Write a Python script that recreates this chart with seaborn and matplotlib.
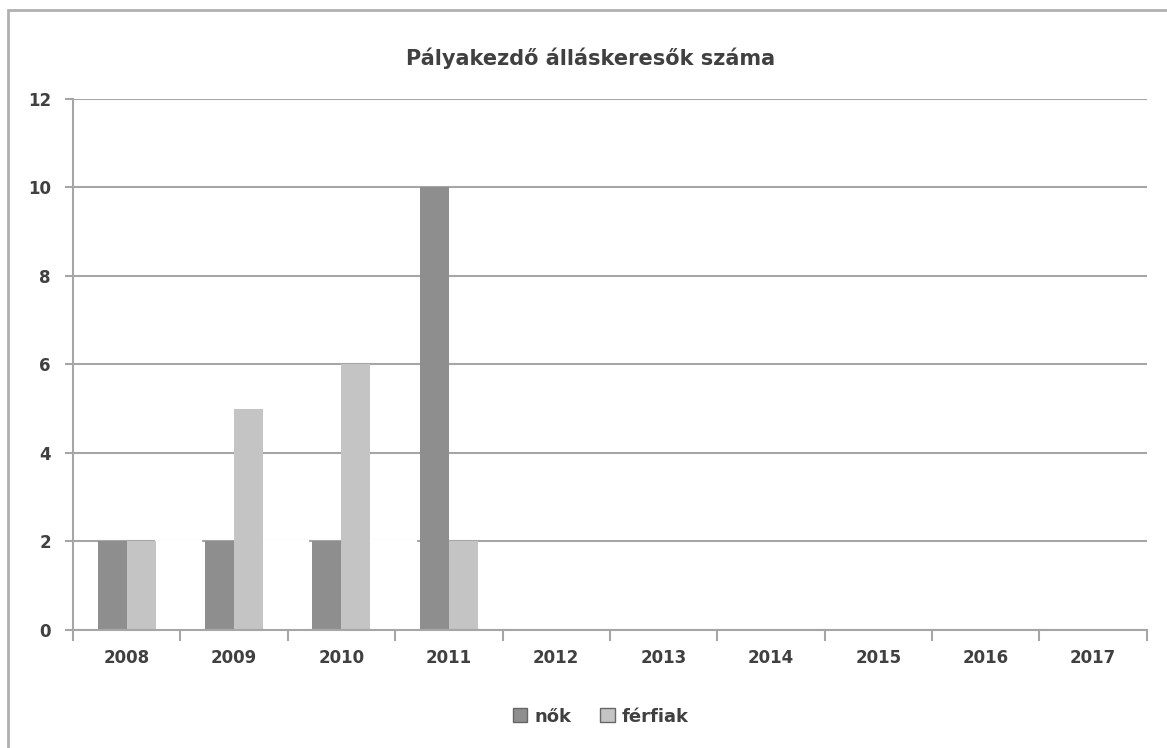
import pandas as pd
import matplotlib
matplotlib.use("Agg")
import matplotlib.pyplot as plt
import seaborn as sns
from matplotlib.patches import Rectangle, Patch

years = ["2008", "2009", "2010", "2011", "2012", "2013", "2014", "2015", "2016", "2017"]
nok = [2, 2, 2, 10, 0, 0, 0, 0, 0, 0]
ferfiak = [2, 5, 6, 2, 0, 0, 0, 0, 0, 0]
# third series in the original workbook, drawn in white (only hides the gridline)
rejtett = [2, 2, 2, 0, 0, 0, 0, 0, 0, 0]

series_names = ["nők", "férfiak", "rejtett"]
colors = ["#8e8e8e", "#c4c4c4", "#ffffff"]

data = pd.DataFrame({
    "év": years * 3,
    "érték": nok + ferfiak + rejtett,
    "sorozat": ["nők"] * 10 + ["férfiak"] * 10 + ["rejtett"] * 10,
})

sns.set_style("white")
plt.rcParams["font.family"] = ["DejaVu Sans"]
text_color = "#404040"
line_color = "#a6a6a6"

fig = plt.figure(figsize=(11.67, 7.48), dpi=100)
ax = fig.add_axes([0.0626, 0.158, 0.92, 0.71])

sns.barplot(data=data, x="év", y="érték", hue="sorozat", hue_order=series_names,
            palette=colors, width=0.81, saturation=1, legend=False, ax=ax, zorder=3)

# shift the cluster so the two visible bars sit around the tick, widen the mask bars
n = len(years)
for i, bar in enumerate(ax.patches):
    bar.set_x(bar.get_x() + 0.135)
    bar.set_linewidth(0)
    if i >= 2 * n:
        bar.set_width(0.42)
        bar.set_edgecolor("white")
        bar.set_linewidth(1.5)
        bar.set_zorder(2.5)

ax.set_xlim(-0.5, n - 0.5)
ax.set_ylim(0, 12)
ax.set_yticks(range(0, 13, 2))
ax.yaxis.grid(True, color=line_color, linewidth=1.5, zorder=0)
ax.set_axisbelow(True)

ax.set_xticks([i - 0.5 for i in range(n + 1)], minor=True)
ax.tick_params(axis="x", which="major", bottom=False, length=0, pad=14)
ax.tick_params(axis="x", which="minor", bottom=True, length=8, width=1.5,
               color=line_color, direction="out")
ax.tick_params(axis="y", left=True, length=6, width=1.5, color=line_color,
               direction="out", pad=10)
ax.set_xticklabels(years)

for lab in ax.get_xticklabels() + ax.get_yticklabels():
    lab.set_fontsize(12)
    lab.set_fontweight("bold")
    lab.set_color(text_color)

for side in ["top", "right"]:
    ax.spines[side].set_visible(False)
for side in ["left", "bottom"]:
    ax.spines[side].set_color(line_color)
    ax.spines[side].set_linewidth(1.5)
    ax.spines[side].set_zorder(5)

ax.set_xlabel("")
ax.set_ylabel("")

fig.text(0.506, 0.922, "Pályakezdő álláskeresők száma", ha="center", va="center",
         fontsize=15, fontweight="bold", color=text_color)

handles = [Patch(facecolor=colors[0], edgecolor="#666666"),
           Patch(facecolor=colors[1], edgecolor="#666666")]
leg = fig.legend(handles, ["nők", "férfiak"], loc="center", bbox_to_anchor=(0.515, 0.042),
                 ncol=2, frameon=False, handlelength=0.8, handleheight=0.8,
                 handletextpad=0.4, columnspacing=1.6,
                 prop={"size": 13, "weight": "bold"})
for t in leg.get_texts():
    t.set_color(text_color)

fig.patches.append(Rectangle((0.007, -0.05), 1.1, 1.037, transform=fig.transFigure,
                             fill=False, edgecolor="#b0b0b0", linewidth=2))

fig.savefig("out.png", dpi=100)
